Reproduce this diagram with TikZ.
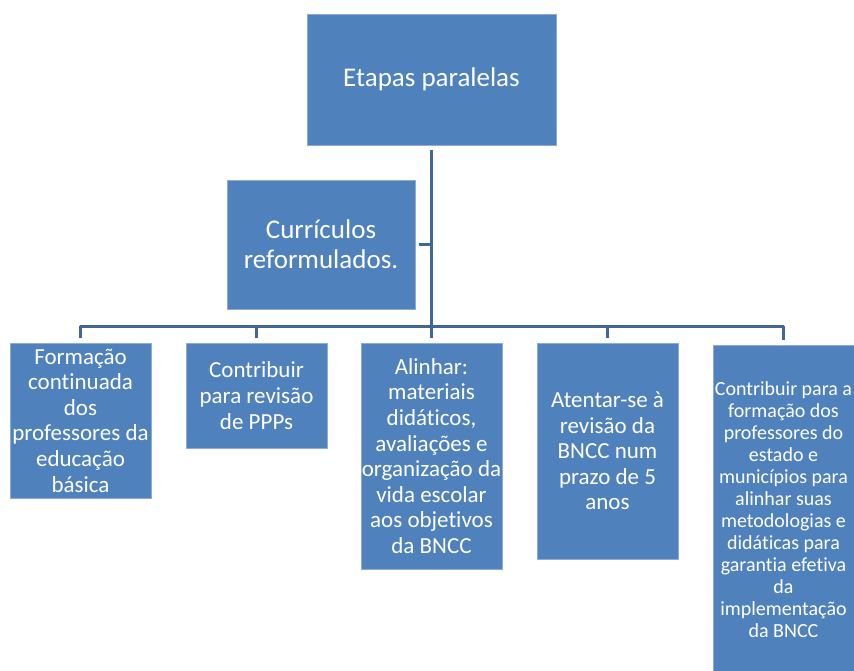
\documentclass[tikz,border=0pt]{standalone}
\usepackage{fontspec}
\setmainfont{Carlito}[Ligatures=CommonOff]
\definecolor{boxfill}{HTML}{4F81BD}
\definecolor{boxedge}{HTML}{8EAAD6}
\definecolor{linecol}{HTML}{3F6798}
\begin{document}
\begin{tikzpicture}[x=1pt,y=-1pt,
  box/.style={fill=boxfill,draw=boxedge,line width=0.8pt,text=white,align=center,inner sep=0pt},
  big/.style={font=\fontsize{27}{30}\selectfont},
  small/.style={font=\fontsize{23}{25.6}\selectfont},
  tiny/.style={font=\fontsize{20}{22}\selectfont},
  conn/.style={draw=linecol,line width=3pt,line join=round}]
\useasboundingbox (0,0) rectangle (854,671);
\node[box,big,minimum width=249pt,minimum height=131pt] (top) at (431.5,79.5) {\raisebox{-3pt}{Etapas paralelas}};
\node[box,big,minimum width=188pt,minimum height=129pt] (curr) at (321,244.5) {Currículos\\reformulados.};
\node[box,small,minimum width=141pt,minimum height=155pt] (b1) at (80.5,420.5) {Formação\\continuada\\dos\\professores da\\educação\\básica};
\node[box,small,minimum width=141pt,minimum height=105pt] (b2) at (256.5,395.5) {Contribuir\\para revisão\\de PPPs};
\node[box,small,minimum width=141pt,minimum height=226pt] (b3) at (431.5,456) {Alinhar:\\materiais\\didáticos,\\avaliações e\\organização da\\vida escolar\\aos objetivos\\da BNCC};
\node[box,small,minimum width=141pt,minimum height=216pt] (b4) at (607.5,451) {Atentar-se à\\revisão da\\BNCC num\\prazo de 5\\anos};
\node[box,tiny,minimum width=141pt,minimum height=330pt] (b5) at (783.5,510) {Contribuir para a\\formação dos\\professores do\\estado e\\municípios para\\alinhar suas\\metodologias e\\didáticas para\\garantia efetiva\\da\\implementação\\da BNCC};
\coordinate (bus) at (431.5,326);
\draw[conn] ([yshift=-5pt]top.south) -- ([yshift=5pt]b3.north);
\draw[conn] ([xshift=4pt]curr.east) -- (curr.east -| top.south);
\draw[conn] ([yshift=5pt]b1.north) -- (b1.north |- bus) -- (b5.north |- bus) -- ([yshift=5pt]b5.north);
\draw[conn] ([yshift=5pt]b2.north) -- (b2.north |- bus);
\draw[conn] ([yshift=5pt]b4.north) -- (b4.north |- bus);
\end{tikzpicture}
\end{document}
